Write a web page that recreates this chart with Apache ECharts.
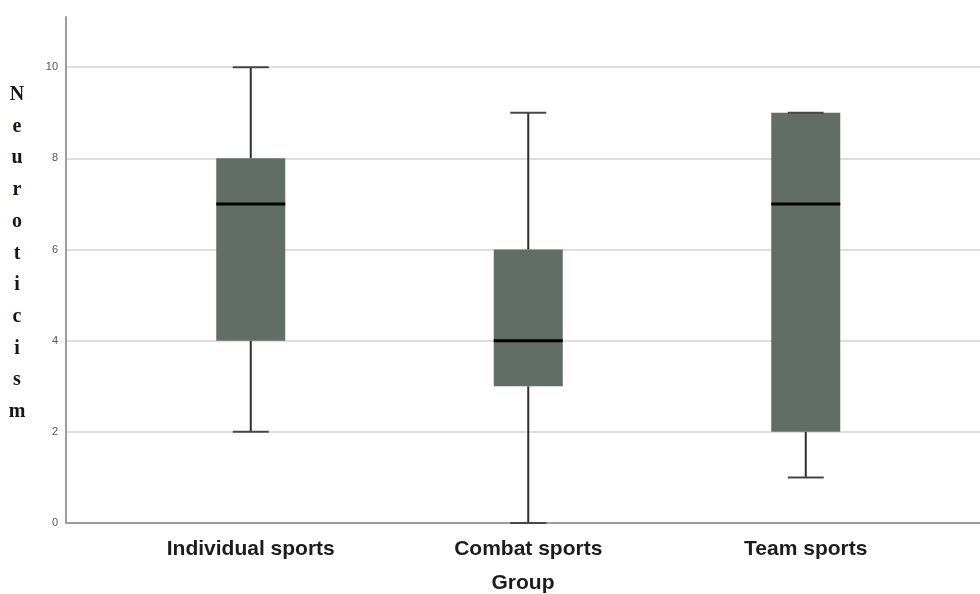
<!DOCTYPE html>
<html>
<head>
<meta charset="utf-8">
<style>
  html, body { margin: 0; padding: 0; background: #ffffff; }
  #chart { width: 980px; height: 594px; }
</style>
<script src="https://cdn.jsdelivr.net/npm/echarts@6/dist/echarts.min.js"></script>
</head>
<body>
<div id="chart"></div>
<script>
// Groups and their five-number summaries (min, Q1, median, Q3, max)
const categories = ['Individual sports', 'Combat sports', 'Team sports'];
const mins    = [2, 0, 1];
const q1s     = [4, 3, 2];
const medians = [7, 4, 7];
const q3s     = [8, 6, 9];
const maxs    = [10, 9, 9];
const yTicks  = [0, 2, 4, 6, 8, 10];

const yTitle = 'Neuroticism';
const xTitle = 'Group';

const boxData = categories.map((c, i) => [i, mins[i], q1s[i], medians[i], q3s[i], maxs[i]]);

const Y_MIN = 0, Y_MAX = 11.1, Y_STEP = yTicks[1] - yTicks[0];
const BOX_W = 69, CAP_W = 36;

function renderBox(params, api) {
  const i = api.value(0);
  const pMin = api.coord([i, api.value(1)]);
  const pQ1  = api.coord([i, api.value(2)]);
  const pMed = api.coord([i, api.value(3)]);
  const pQ3  = api.coord([i, api.value(4)]);
  const pMax = api.coord([i, api.value(5)]);
  const cx = pMed[0];
  const hb = BOX_W / 2, hc = CAP_W / 2;
  const whisker = { stroke: '#2e2e2e', lineWidth: 2 };
  const cap = { stroke: '#474747', lineWidth: 2 };
  return {
    type: 'group',
    children: [
      { type: 'line', shape: { x1: cx, y1: pQ3[1], x2: cx, y2: pMax[1] }, style: whisker },
      { type: 'line', shape: { x1: cx, y1: pQ1[1], x2: cx, y2: pMin[1] }, style: whisker },
      { type: 'rect', shape: { x: cx - hb, y: pQ3[1], width: BOX_W, height: pQ1[1] - pQ3[1] },
        style: { fill: '#636d67' } },
      { type: 'line', shape: { x1: cx - hb, y1: pMed[1], x2: cx + hb, y2: pMed[1] },
        style: { stroke: '#000000', lineWidth: 3 } },
      { type: 'line', shape: { x1: cx - hc, y1: pMax[1], x2: cx + hc, y2: pMax[1] }, style: cap },
      { type: 'line', shape: { x1: cx - hc, y1: pMin[1], x2: cx + hc, y2: pMin[1] }, style: cap }
    ]
  };
}

const chart = echarts.init(document.getElementById('chart'), null, { renderer: 'canvas' });

chart.setOption({
  animation: false,
  backgroundColor: '#ffffff',
  grid: [
    { left: 66, right: 0, top: 17, bottom: 71, outerBoundsMode: 'none', containLabel: false },
    { left: 112, right: 35.5, top: 17, bottom: 71, outerBoundsMode: 'none', containLabel: false }
  ],
  xAxis: [
    {
      type: 'value', gridIndex: 0, min: 0, max: 1,
      name: xTitle, nameLocation: 'middle', nameGap: 50,
      nameTextStyle: { fontFamily: 'Liberation Sans, Arial, sans-serif', fontWeight: 'bold', fontSize: 21, color: '#1c1c1c' },
      axisLine: { show: true, lineStyle: { color: '#9c9c9c', width: 2 } },
      axisTick: { show: false }, axisLabel: { show: false }, splitLine: { show: false }
    },
    {
      type: 'category', gridIndex: 1, data: categories,
      axisLine: { show: false }, axisTick: { show: false }, splitLine: { show: false },
      axisLabel: { margin: 16, fontFamily: 'Liberation Sans, Arial, sans-serif', fontWeight: 'bold', fontSize: 21, color: '#1c1c1c' }
    }
  ],
  yAxis: [
    {
      type: 'value', gridIndex: 0, min: Y_MIN, max: Y_MAX, interval: Y_STEP,
      axisLine: { show: true, lineStyle: { color: '#9c9c9c', width: 2 } },
      axisTick: { show: false },
      axisLabel: { margin: 8, showMaxLabel: false, fontFamily: 'Liberation Sans, Arial, sans-serif', fontSize: 11, color: '#555555' },
      splitLine: { show: true, showMaxLine: false, lineStyle: { color: '#dedede', width: 2 } }
    },
    {
      type: 'value', gridIndex: 1, min: Y_MIN, max: Y_MAX, interval: Y_STEP, show: false
    }
  ],
  graphic: [
    {
      type: 'text', x: 17, y: 79,
      style: {
        text: yTitle.split('').join('\n'),
        font: 'bold 20px "Liberation Serif", "Times New Roman", serif',
        fill: '#14142a', lineHeight: 31.7, align: 'center', verticalAlign: 'top'
      }
    }
  ],
  series: [
    {
      type: 'custom', xAxisIndex: 1, yAxisIndex: 1,
      renderItem: renderBox,
      encode: { x: 0, y: [1, 2, 3, 4, 5] },
      data: boxData, z: 3
    }
  ]
});
</script>
</body>
</html>
